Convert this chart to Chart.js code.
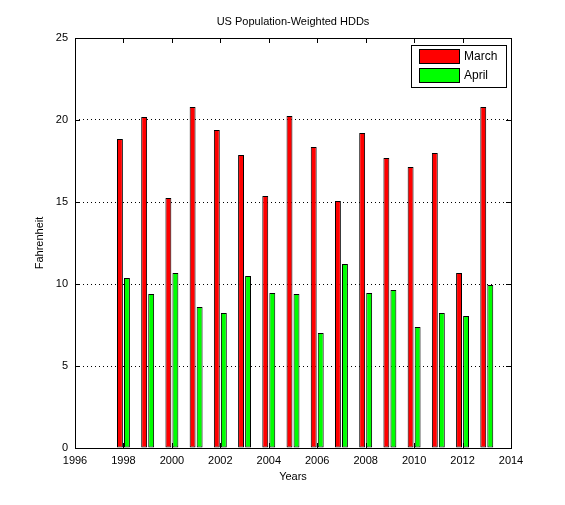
<!DOCTYPE html>
<html>
<head>
<meta charset="utf-8">
<script src="https://cdn.jsdelivr.net/npm/chart.js@4"></script>
<style>
  html, body { margin: 0; padding: 0; background: #fff; }
  #wrap { width: 565px; height: 505px; }
</style>
</head>
<body>
<div id="wrap"><canvas id="hddChart" width="565" height="505"></canvas></div>
<script>
// Chart data
const years = [1998, 1999, 2000, 2001, 2002, 2003, 2004, 2005, 2006, 2007, 2008, 2009, 2010, 2011, 2012, 2013];
const marchHDD = [18.84, 20.18, 15.24, 20.79, 19.39, 17.87, 15.37, 20.24, 18.35, 15.06, 19.21, 17.68, 17.13, 17.99, 10.67, 20.79];
const aprilHDD = [10.37, 9.39, 10.67, 8.60, 8.23, 10.49, 9.45, 9.39, 7.01, 11.22, 9.45, 9.63, 7.38, 8.23, 8.05, 9.94];
const seriesNames = ['March', 'April'];
const seriesColors = ['#ff0000', '#00ff00'];
const xRange = [1996, 2014];
const yRange = [0, 25];

const FONT = '"Liberation Sans", Arial, sans-serif';

// Box, inward ticks, title and the legend drawn inside the axes
const matlabFrame = {
    id: 'matlabFrame',
    afterDraw(chart) {
        const { ctx, chartArea: a, scales } = chart;
        ctx.save();
        ctx.strokeStyle = '#000';
        ctx.lineWidth = 1;

        // tick marks pointing in, on all four sides
        ctx.beginPath();
        scales.x.ticks.forEach(t => {
            const px = Math.round(scales.x.getPixelForValue(t.value)) + 0.5;
            ctx.moveTo(px, a.bottom); ctx.lineTo(px, a.bottom - 5);
            ctx.moveTo(px, a.top); ctx.lineTo(px, a.top + 5);
        });
        scales.y.ticks.forEach(t => {
            const py = Math.round(scales.y.getPixelForValue(t.value)) + 0.5;
            ctx.moveTo(a.left, py); ctx.lineTo(a.left + 5, py);
            ctx.moveTo(a.right, py); ctx.lineTo(a.right - 5, py);
        });
        ctx.stroke();

        // axes box
        ctx.strokeRect(a.left + 0.5, a.top + 0.5, a.right - a.left, a.bottom - a.top);

        // title
        ctx.fillStyle = '#000';
        ctx.font = '11px ' + FONT;
        ctx.textAlign = 'center';
        ctx.textBaseline = 'middle';
        ctx.fillText('US Population-Weighted HDDs', (a.left + a.right) / 2, 22);

        // legend
        const lx = 411, ly = 45, lw = 95, lh = 42;
        ctx.fillStyle = '#fff';
        ctx.fillRect(lx, ly, lw, lh);
        ctx.strokeRect(lx + 0.5, ly + 0.5, lw, lh);
        ctx.textAlign = 'left';
        ctx.font = '12px ' + FONT;
        chart.data.datasets.forEach((ds, i) => {
            const sy = 49 + i * 19;
            ctx.fillStyle = ds.backgroundColor;
            ctx.fillRect(419, sy, 40, 14);
            ctx.strokeRect(419.5, sy + 0.5, 40, 14);
            ctx.fillStyle = '#000';
            ctx.fillText(ds.label, 464, sy + 8);
        });
        ctx.restore();
    }
};

const ctx = document.getElementById('hddChart').getContext('2d');
const chart = new Chart(ctx, {
    type: 'bar',
    data: {
        datasets: [marchHDD, aprilHDD].map((vals, i) => ({
            label: seriesNames[i],
            data: years.map((yr, j) => ({ x: yr, y: vals[j] })),
            backgroundColor: seriesColors[i],
            borderColor: '#000',
            borderWidth: 1,
            borderSkipped: false,
            categoryPercentage: 0.58,
            barPercentage: 0.84
        }))
    },
    options: {
        responsive: false,
        animation: false,
        layout: { padding: { top: 38, right: 54, left: 0, bottom: 0 } },
        plugins: {
            legend: { display: false },
            title: { display: false },
            tooltip: { enabled: false }
        },
        scales: {
            x: {
                type: 'linear',
                offset: false,
                min: xRange[0],
                max: xRange[1],
                grid: { display: false, drawTicks: false, offset: false },
                border: { display: false },
                ticks: {
                    stepSize: 2,
                    padding: 6,
                    color: '#000',
                    font: { family: FONT, size: 11 },
                    callback: v => String(v),
                    maxRotation: 0
                },
                title: {
                    display: true,
                    text: 'Years',
                    color: '#000',
                    font: { family: FONT, size: 11 },
                    padding: { top: 0, bottom: 21 }
                },
                afterFit(scale) { scale.height = 57; }
            },
            y: {
                min: yRange[0],
                max: yRange[1],
                grid: { color: '#000', drawTicks: false, lineWidth: 1 },
                border: { display: false, dash: [1, 3] },
                ticks: {
                    stepSize: 5,
                    padding: 7,
                    color: '#000',
                    font: { family: FONT, size: 11 }
                },
                title: {
                    display: true,
                    text: 'Fahrenheit',
                    color: '#000',
                    font: { family: FONT, size: 11 },
                    padding: { top: 33, bottom: 0 }
                },
                afterFit(scale) { scale.width = 75; }
            }
        }
    },
    plugins: [matlabFrame]
});
</script>
</body>
</html>
